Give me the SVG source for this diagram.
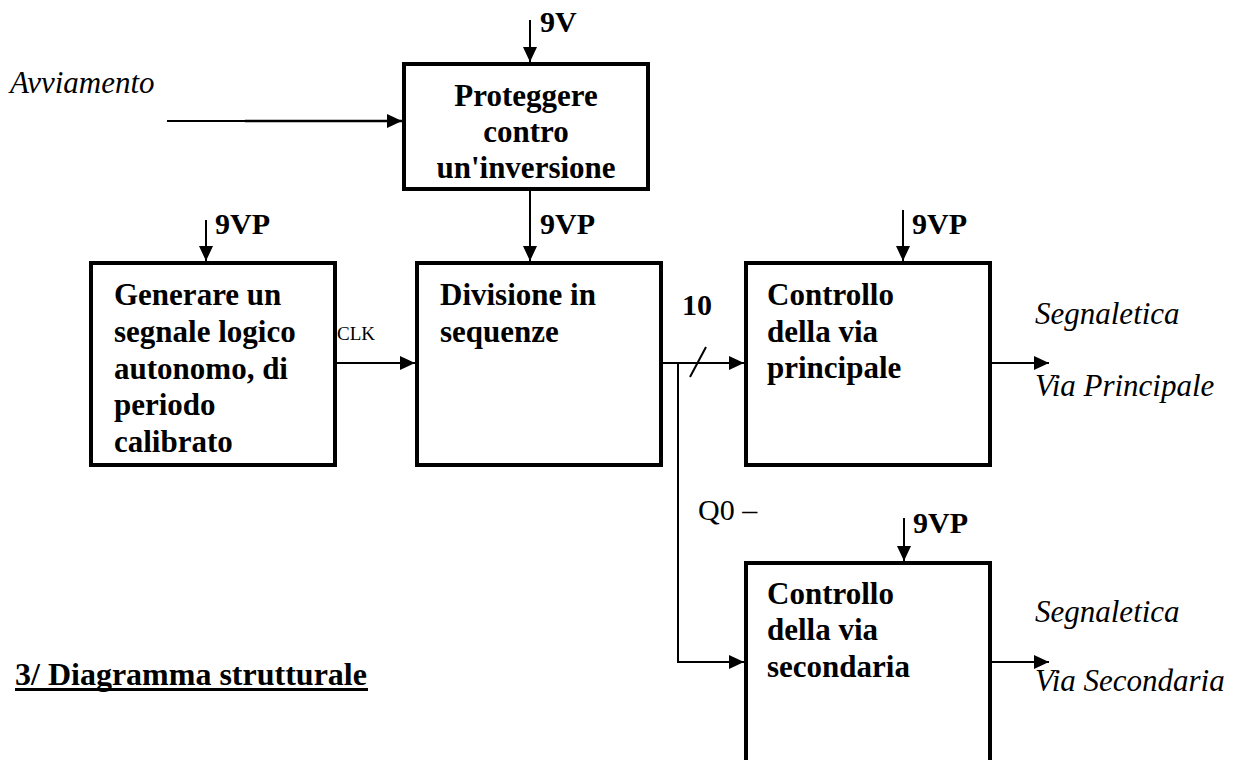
<svg xmlns="http://www.w3.org/2000/svg" width="1244" height="760" viewBox="0 0 1244 760">
<defs>
<style>
.box{fill:#fff;stroke:#000;stroke-width:4}
.ln{fill:none;stroke:#000;stroke-width:2}
.arr{marker-end:url(#ah)}
.bt{font-family:"Liberation Serif","Times New Roman",serif;font-weight:bold;font-size:31px;fill:#000}
.pw{font-family:"Liberation Serif","Times New Roman",serif;font-weight:bold;font-size:30px;fill:#000}
.it{font-family:"Liberation Serif","Times New Roman",serif;font-style:italic;font-size:31px;fill:#000}
.rg{font-family:"Liberation Serif","Times New Roman",serif;fill:#000}
</style>
<marker id="ah" markerUnits="userSpaceOnUse" markerWidth="16" markerHeight="14" refX="15" refY="7" orient="auto">
<path d="M0,0 L15,7 L0,14 Z" fill="#000"/>
</marker>
</defs>
<rect width="1244" height="760" fill="#fff"/>
<g id="connectors">
<line class="ln" x1="167" y1="121" x2="245" y2="121" stroke-width="1.5"/>
<line class="ln arr" x1="245" y1="121" x2="402" y2="121" style="stroke-width:2.5"/>
<line class="ln arr" x1="530" y1="20" x2="530" y2="62"/>
<line class="ln arr" x1="530" y1="191" x2="530" y2="261"/>
<line class="ln arr" x1="206" y1="220" x2="206" y2="261"/>
<line class="ln arr" x1="903" y1="210" x2="903" y2="261"/>
<line class="ln arr" x1="904" y1="518" x2="904" y2="561"/>
<line class="ln arr" x1="337" y1="363" x2="415" y2="363"/>
<line class="ln arr" x1="663" y1="363" x2="744" y2="363"/>
<line class="ln" x1="690" y1="377" x2="706" y2="347"/>
<polyline class="ln arr" points="678,363 678,662 744,662"/>
<line class="ln arr" x1="992" y1="363" x2="1049" y2="363"/>
<line class="ln arr" x1="992" y1="662" x2="1049" y2="662"/>
</g>
<g id="avviamento"><text class="it" x="10" y="93">Avviamento</text></g>
<g id="proteggere">
<rect class="box" x="404" y="64" width="244" height="125"/>
<text class="bt" x="526" y="106" text-anchor="middle">Proteggere</text>
<text class="bt" x="526" y="142" text-anchor="middle">contro</text>
<text class="bt" x="526" y="178" text-anchor="middle">un'inversione</text>
<text class="pw" x="540" y="32">9V</text>
</g>
<g id="generare">
<rect class="box" x="91" y="263" width="244" height="202"/>
<text class="bt" x="114" y="305">Generare un</text>
<text class="bt" x="114" y="342">segnale logico</text>
<text class="bt" x="114" y="379">autonomo, di</text>
<text class="bt" x="114" y="415">periodo</text>
<text class="bt" x="114" y="452">calibrato</text>
<text class="pw" x="215" y="234">9VP</text>
<text class="rg" x="337" y="340" font-size="19">CLK</text>
</g>
<g id="divisione">
<rect class="box" x="417" y="263" width="244" height="202"/>
<text class="bt" x="440" y="305">Divisione in</text>
<text class="bt" x="440" y="342">sequenze</text>
<text class="pw" x="540" y="234">9VP</text>
<text class="pw" x="697" y="315" text-anchor="middle">10</text>
</g>
<g id="principale">
<rect class="box" x="746" y="263" width="244" height="202"/>
<text class="bt" x="767" y="305">Controllo</text>
<text class="bt" x="767" y="342">della via</text>
<text class="bt" x="767" y="378">principale</text>
<text class="pw" x="912" y="234">9VP</text>
<text class="it" x="1035" y="324">Segnaletica</text>
<text class="it" x="1035" y="396">Via Principale</text>
</g>
<g id="secondaria">
<rect class="box" x="746" y="563" width="244" height="240"/>
<text class="bt" x="767" y="604">Controllo</text>
<text class="bt" x="767" y="640">della via</text>
<text class="bt" x="767" y="677">secondaria</text>
<text class="pw" x="913" y="533">9VP</text>
<text class="rg" x="698" y="520" font-size="30">Q0 –</text>
<text class="it" x="1035" y="622">Segnaletica</text>
<text class="it" x="1035" y="691">Via Secondaria</text>
</g>
<g id="title">
<text class="rg" x="15" y="685" font-size="32" font-weight="bold">3/ Diagramma strutturale</text>
<line x1="15" y1="689.5" x2="368" y2="689.5" stroke="#000" stroke-width="3"/>
</g>
</svg>
